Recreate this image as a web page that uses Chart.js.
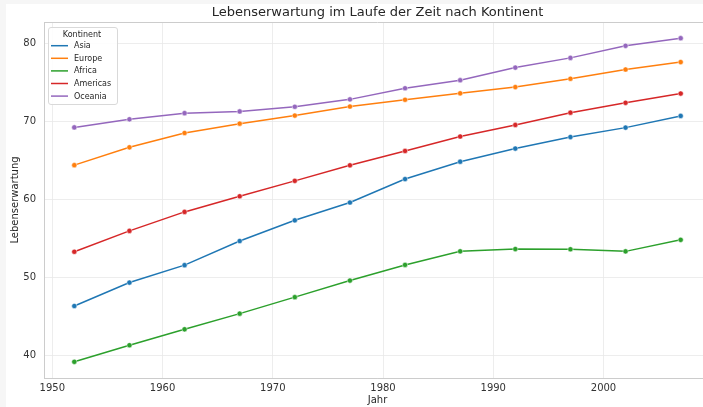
<!DOCTYPE html>
<html>
<head>
<meta charset="utf-8">
<script src="https://cdn.jsdelivr.net/npm/chart.js@4.4.0/dist/chart.umd.min.js"></script>
<style>
  html, body { margin: 0; padding: 0; overflow: hidden; background: #f6f6f6; width: 703px; height: 407px; }
  #wrap { position: absolute; left: 6px; top: 4px; width: 711px; height: 403px; background: #fff; }
</style>
</head>
<body>
<div id="wrap"><canvas id="chart" width="711" height="403"></canvas></div>
<script>
// gapminder means per continent
const years = [1952, 1957, 1962, 1967, 1972, 1977, 1982, 1987, 1992, 1997, 2002, 2007];
const continents = ["Asia", "Europe", "Africa", "Americas", "Oceania"];
const asia     = [46.31, 49.32, 51.56, 54.66, 57.32, 59.61, 62.62, 64.85, 66.54, 68.02, 69.23, 70.73];
const europe   = [64.41, 66.70, 68.54, 69.74, 70.78, 71.94, 72.81, 73.64, 74.44, 75.51, 76.70, 77.65];
const africa   = [39.14, 41.27, 43.32, 45.33, 47.45, 49.58, 51.59, 53.34, 53.63, 53.60, 53.33, 54.81];
const americas = [53.28, 55.96, 58.40, 60.41, 62.39, 64.39, 66.23, 68.09, 69.57, 71.15, 72.42, 73.61];
const oceania  = [69.26, 70.30, 71.09, 71.31, 71.91, 72.86, 74.29, 75.32, 76.94, 78.19, 79.74, 80.72];
const colors = ["#1f77b4", "#ff7f0e", "#2ca02c", "#d62728", "#9467bd"];
const xTicks = [1950, 1960, 1970, 1980, 1990, 2000];
const yTicks = [40, 50, 60, 70, 80];

const series = [asia, europe, africa, americas, oceania];
const FONT = "'DejaVu Sans', sans-serif";

const datasets = continents.map((name, i) => ({
  label: name,
  data: years.map((y, j) => ({ x: y, y: series[i][j] })),
  borderColor: colors[i],
  backgroundColor: colors[i],
  borderWidth: 1.5,
  pointRadius: 2.6,
  pointBorderColor: "#fff",
  pointBorderWidth: 0.5,
  tension: 0
}));

// title, axis labels, top spine and legend
const decor = {
  id: "decor",
  afterDraw(chart) {
    const ctx = chart.ctx;
    const a = chart.chartArea;
    ctx.save();
    ctx.strokeStyle = "#cccccc";
    ctx.lineWidth = 1;
    ctx.beginPath();
    ctx.moveTo(a.left, a.top + 0.5);
    ctx.lineTo(a.right, a.top + 0.5);
    ctx.stroke();

    ctx.fillStyle = "#262626";
    ctx.textAlign = "center";
    ctx.textBaseline = "middle";
    ctx.font = "13px " + FONT;
    ctx.fillText("Lebenserwartung im Laufe der Zeit nach Kontinent", (a.left + a.right) / 2, 8.5);
    ctx.font = "10px " + FONT;
    ctx.fillText("Jahr", (a.left + a.right) / 2, 396);
    ctx.save();
    ctx.translate(9, (a.top + a.bottom) / 2);
    ctx.rotate(-Math.PI / 2);
    ctx.fillText("Lebenserwartung", 0, 0);
    ctx.restore();

    // legend
    const lx = 42, ly = 23, lw = 69, lh = 77;
    ctx.fillStyle = "rgba(255,255,255,0.85)";
    ctx.strokeStyle = "#d9d9d9";
    ctx.beginPath();
    ctx.roundRect(lx + 0.5, ly + 0.5, lw, lh, 2.5);
    ctx.fill();
    ctx.stroke();
    ctx.fillStyle = "#262626";
    ctx.font = "8px " + FONT;
    ctx.fillText("Kontinent", 76, 30.5);
    ctx.textAlign = "left";
    continents.forEach((name, i) => {
      const y = 41.7 + i * 12.6;
      ctx.strokeStyle = colors[i];
      ctx.lineWidth = 1.5;
      ctx.beginPath();
      ctx.moveTo(45, y);
      ctx.lineTo(62, y);
      ctx.stroke();
      ctx.fillStyle = "#262626";
      ctx.fillText(name, 68, y + 0.5);
    });
    ctx.restore();
  }
};

new Chart(document.getElementById("chart"), {
  type: "line",
  data: { datasets },
  options: {
    responsive: false,
    animation: false,
    layout: { padding: { top: 18, right: 6, left: 0, bottom: 0 } },
    plugins: { legend: { display: false }, tooltip: { enabled: false }, title: { display: false } },
    scales: {
      x: {
        type: "linear",
        min: 1949.25,
        max: 2009.75,
        afterFit(scale) { scale.height = 29; },
        afterBuildTicks(scale) { scale.ticks = xTicks.map(v => ({ value: v })); },
        ticks: { padding: 4, color: "#333", font: { family: FONT, size: 10 }, callback: v => String(v), maxRotation: 0 },
        grid: { color: "#e8e8e8", lineWidth: 0.8, drawTicks: false },
        border: { color: "#cccccc", width: 1, dash: [] }
      },
      y: {
        min: 37.06,
        max: 82.80,
        afterFit(scale) { scale.width = 38; },
        afterBuildTicks(scale) { scale.ticks = yTicks.map(v => ({ value: v })); },
        ticks: { padding: 8, color: "#333", font: { family: FONT, size: 10 } },
        grid: { color: "#e8e8e8", lineWidth: 0.8, drawTicks: false },
        border: { color: "#cccccc", width: 1 }
      }
    }
  },
  plugins: [decor]
});
</script>
</body>
</html>
